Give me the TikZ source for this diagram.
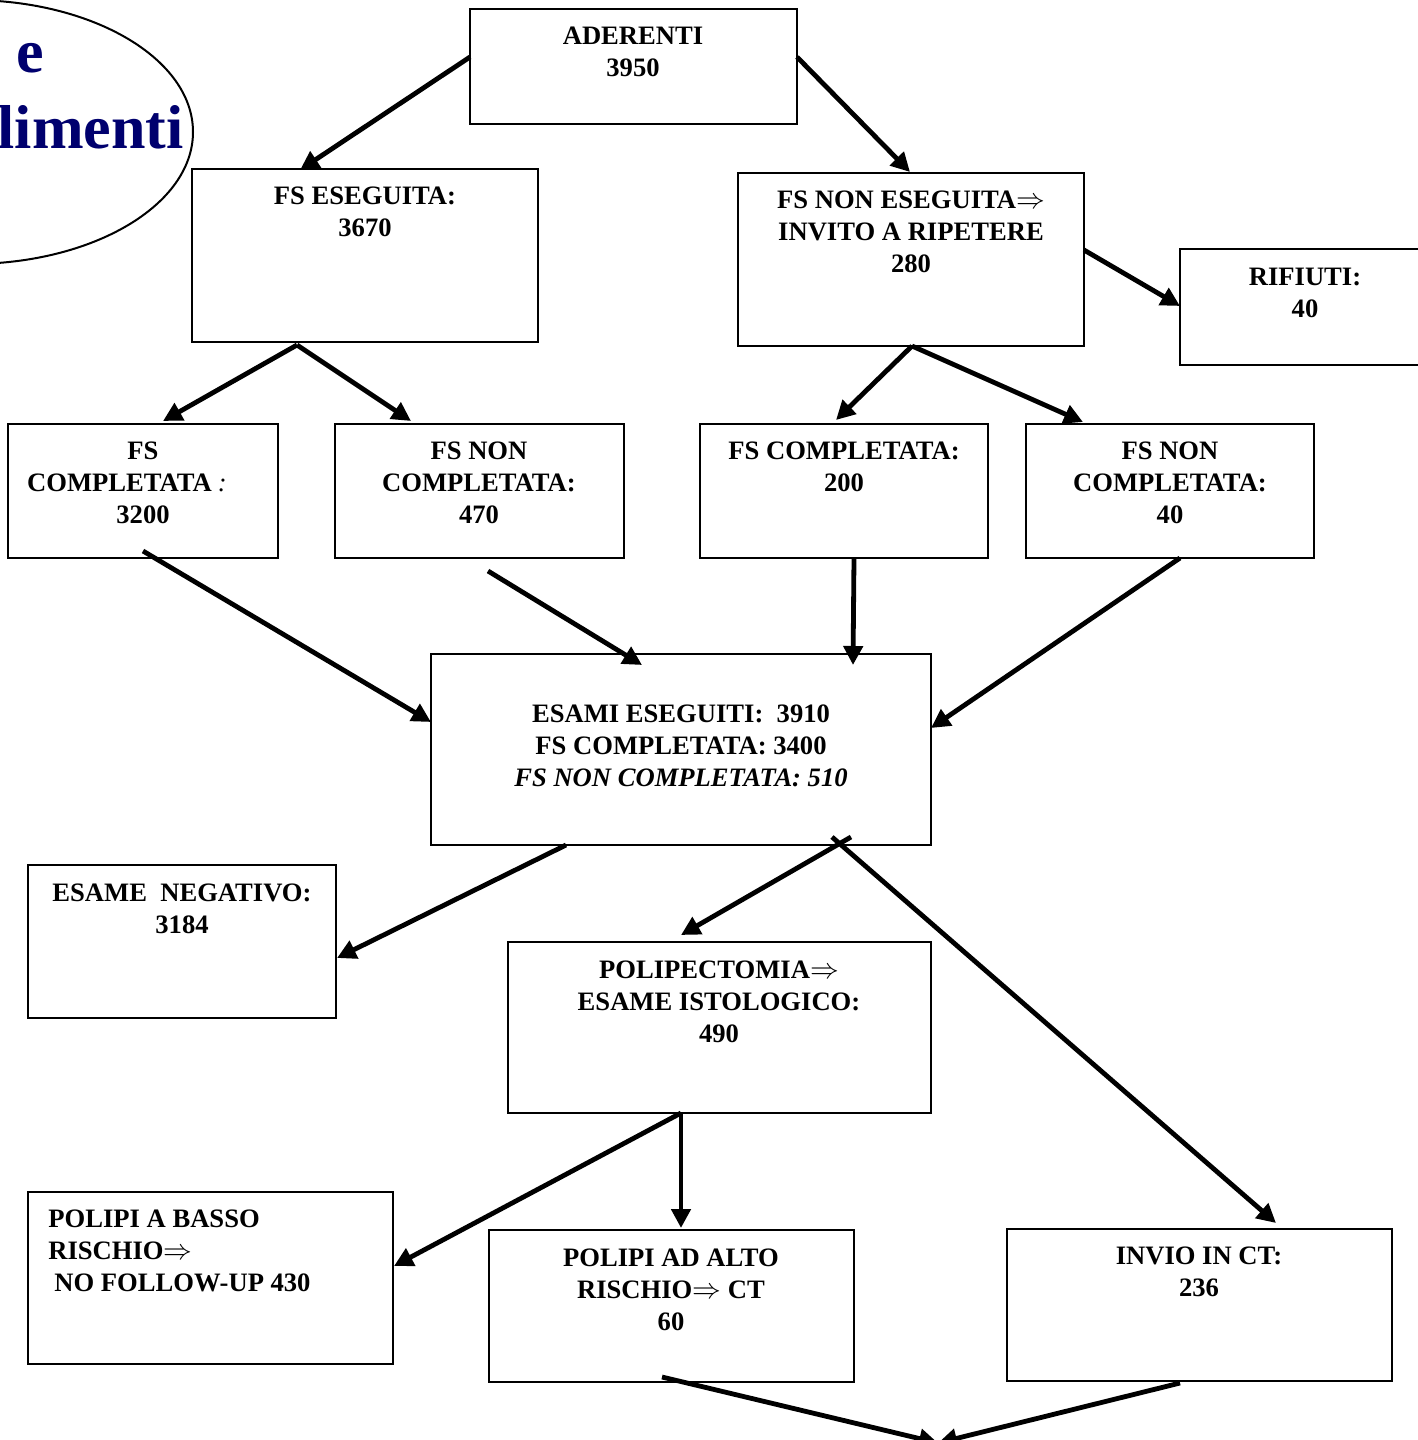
\documentclass[tikz,border=0pt]{standalone}
\usepackage{fontspec}
\setmainfont{Liberation Serif}
\usetikzlibrary{arrows.meta,fit,calc}
\definecolor{navy}{RGB}{0,0,110}
\begin{document}
\begin{tikzpicture}[x=0.5pt,y=-0.5pt,
  box/.style={draw,line width=1pt,inner sep=0pt},
  txt/.style={align=center,font=\fontsize{13.3}{16}\selectfont\bfseries,inner sep=0pt},
  arr/.style={line width=2.4pt,-{Triangle[length=9.5pt,width=9.5pt]}},
  big/.style={font=\fontsize{31}{36}\selectfont\bfseries,text=navy,inner sep=0pt}
]
\useasboundingbox (0,0) rectangle (1418,1440);
\clip (0,0) rectangle (1418,1440);

% ellipse with title fragment
\draw[line width=1pt] (-30,132) ellipse [x radius=223, y radius=132];
\node[big,anchor=base] (ttla) at (30,72) {e};
\node[big,anchor=base east] (ttlb) at (184,148) {limenti};

% boxes
\node[box,fit={(470,9) (797,124)}] (aderenti) {};
\node[box,fit={(192,169) (538,342)}] (eseguita) {};
\node[box,fit={(738,173) (1084,346)}] (noneseg) {};
\node[box,fit={(1180,249) (1424,365)}] (rifiuti) {};
\node[box,fit={(8,424) (278,558)}] (comp1) {};
\node[box,fit={(335,424) (624,558)}] (noncomp1) {};
\node[box,fit={(700,424) (988,558)}] (comp2) {};
\node[box,fit={(1026,424) (1314,558)}] (noncomp2) {};
\node[box,fit={(431,654) (931,845)}] (esami) {};
\node[box,fit={(28,865) (336,1018)}] (negativo) {};
\node[box,fit={(508,942) (931,1113)}] (polipect) {};
\node[box,fit={(28,1192) (393,1364)}] (basso) {};
\node[box,fit={(489,1230) (854,1382)}] (alto) {};
\node[box,fit={(1007,1229) (1392,1381)}] (invio) {};

% texts
\node[txt] (t-aderenti) at (633,52) {ADERENTI\\3950};
\node[txt] (t-eseguita) at (365,212) {FS ESEGUITA:\\3670};
\node[txt] (t-noneseg) at (911,232) {FS NON ESEGUITA$\Rightarrow$\\INVITO A RIPETERE\\280};
\node[txt] (t-rifiuti) at (1305,293) {RIFIUTI:\\40};
\node[txt] (t-comp1) at (143,483) {FS\\COMPLETATA\kern3pt{\mdseries\itshape :}\hbox to 16pt{}\\3200};
\node[txt] (t-noncomp1) at (479,483) {FS NON\\COMPLETATA:\\470};
\node[txt] (t-comp2) at (844,467) {FS COMPLETATA:\\200};
\node[txt] (t-noncomp2) at (1170,483) {FS NON\\COMPLETATA:\\40};
\node[txt] (t-esami) at (681,746) {ESAMI ESEGUITI:\ \ 3910\\FS COMPLETATA: 3400\\\itshape FS NON COMPLETATA: 510};
\node[txt] (t-negativo) at (182,909) {ESAME\ \ NEGATIVO:\\3184};
\node[txt] (t-polipect) at (719,1002) {POLIPECTOMIA$\Rightarrow$\\ESAME ISTOLOGICO:\\490};
\node[txt,align=left,anchor=west] (t-basso) at (48,1251) {POLIPI A BASSO\\RISCHIO$\Rightarrow$\\\hspace*{3pt}NO FOLLOW-UP 430};
\node[txt] (t-alto) at (671,1290) {POLIPI AD ALTO\\RISCHIO$\Rightarrow$ CT\\60};
\node[txt] (t-invio) at (1199,1272) {INVIO IN CT:\\236};

% connector end points
\coordinate (a1s) at (470,57);   \coordinate (a1e) at (300,170);
\coordinate (a2s) at (797,57);   \coordinate (a2e) at (910,172);
\coordinate (a3s) at (1084,250); \coordinate (a3e) at (1180,306);
\coordinate (bs) at (297,345);
\coordinate (b1e) at (163,421);  \coordinate (b2e) at (411,421);
\coordinate (cs) at (912,346);
\coordinate (c1e) at (836,420);  \coordinate (c2e) at (1083,422);
\coordinate (d1s) at (143,551);  \coordinate (d1e) at (431,722);
\coordinate (d2s) at (488,571);  \coordinate (d2e) at (642,665);
\coordinate (d3s) at (854,558);  \coordinate (d3e) at (853,665);
\coordinate (d4s) at (1180,558); \coordinate (d4e) at (931,728);
\coordinate (e1s) at (566,845);  \coordinate (e1e) at (337,958);
\coordinate (e2s) at (851,837);  \coordinate (e2e) at (681,935);
\coordinate (e3s) at (832,837);  \coordinate (e3e) at (1276,1223);
\coordinate (f1s) at (681,1113); \coordinate (f1e) at (394,1266);
\coordinate (f2s) at (681,1113); \coordinate (f2e) at (681,1228);
\coordinate (g1s) at (662,1377); \coordinate (g2s) at (1180,1383);
\coordinate (gend) at (938,1443);

% connectors
\draw[arr] (a1s) -- (a1e);
\draw[arr] (a2s) -- (a2e);
\draw[arr] (a3s) -- (a3e);
\draw[arr] (bs) -- (b1e);
\draw[arr] (bs) -- (b2e);
\draw[arr] (cs) -- (c1e);
\draw[arr] (cs) -- (c2e);
\draw[arr] (d1s) -- (d1e);
\draw[arr] (d2s) -- (d2e);
\draw[arr] (d3s) -- (d3e);
\draw[arr] (d4s) -- (d4e);
\draw[arr] (e1s) -- (e1e);
\draw[arr] (e2s) -- (e2e);
\draw[arr] (e3s) -- (e3e);
\draw[arr] (f1s) -- (f1e);
\draw[arr] (f2s) -- (f2e);
\draw[arr] (g1s) -- (gend);
\draw[arr] (g2s) -- (gend);
\end{tikzpicture}
\end{document}
